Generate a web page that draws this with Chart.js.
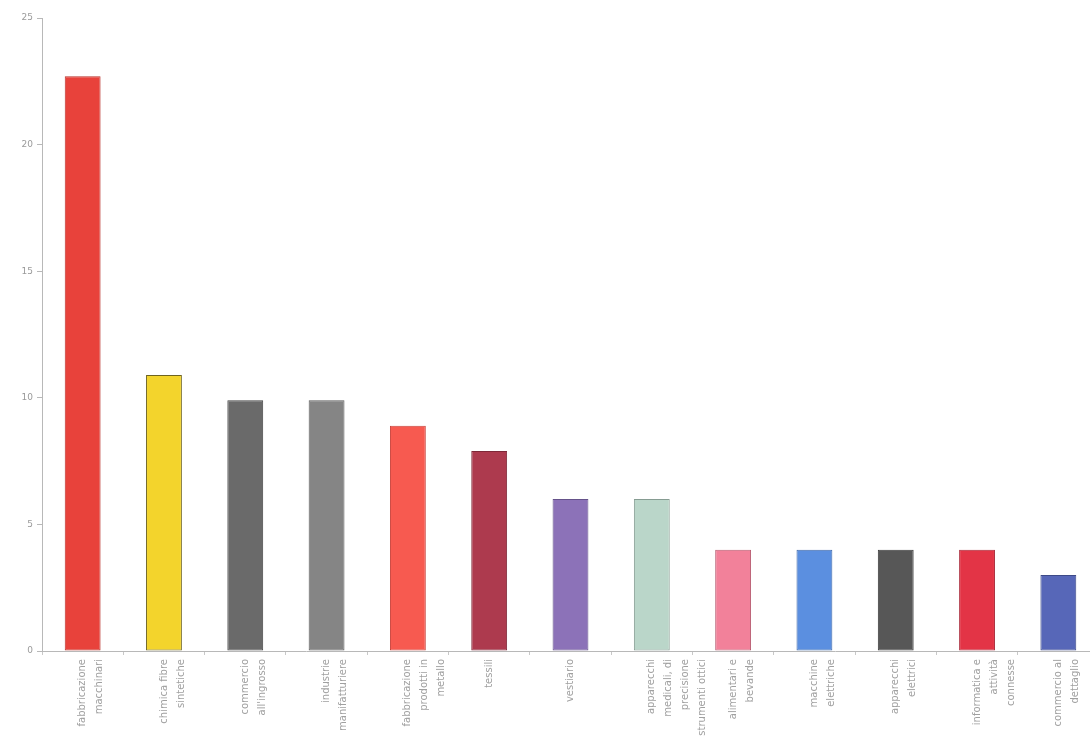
<!DOCTYPE html>
<html lang="it">
<head>
  <meta charset="UTF-8" />
  <title>Settori</title>
  <script src="https://cdn.jsdelivr.net/npm/chart.js"></script>
  <style>
    html, body { margin: 0; padding: 0; background: #fff; overflow: hidden; }
    #wrap { position: relative; width: 1100px; height: 747px; }
  </style>
</head>
<body>
  <div id="wrap"><canvas id="chart" width="1100" height="747"></canvas></div>

  <script>
    // sector labels (split into lines as in the original)
    const sectors = [
      ['fabbricazione', 'macchinari'],
      ['chimica fibre', 'sintetiche'],
      ['commercio', "all'ingrosso"],
      ['industrie', 'manifatturiere'],
      ['fabbricazione', 'prodotti in', 'metallo'],
      ['tessili'],
      ['vestiario'],
      ['apparecchi', 'medicali, di', 'precisione', 'strumenti ottici'],
      ['alimentari e', 'bevande'],
      ['macchine', 'elettriche'],
      ['apparecchi', 'elettrici'],
      ['informatica e', 'attività', 'connesse'],
      ['commercio al', 'dettaglio']
    ];
    const values = [22.7, 10.9, 9.9, 9.9, 8.9, 7.9, 6.0, 6.0, 4.0, 4.0, 4.0, 4.0, 3.0];
    const fills = ['#e8423b', '#f3d42c', '#6a6a6a', '#858585', '#f75a50', '#ad3a4e', '#8c72b8',
                   '#bad6c9', '#f2819a', '#5b8fe0', '#575757', '#e33446', '#5767b8'];
    const edges = ['#b8302a', '#6e6420', '#444444', '#5c5c5c', '#c8443c', '#7e2838', '#65528a',
                   '#869c92', '#b85e72', '#3f68a8', '#383838', '#a82434', '#3d4a88'];
    const yTicks = [0, 5, 10, 15, 20, 25];

    new Chart(document.getElementById('chart').getContext('2d'), {
      type: 'bar',
      data: {
        labels: sectors,
        datasets: [{
          data: values,
          backgroundColor: fills,
          borderColor: edges,
          borderWidth: 1,
          borderSkipped: false,
          categoryPercentage: 0.9,
          barPercentage: 0.49
        }]
      },
      options: {
        responsive: false,
        animation: false,
        layout: { padding: { top: 18, right: 1, left: 0, bottom: 0 } },
        plugins: { legend: { display: false }, tooltip: { enabled: false } },
        scales: {
          x: {
            grid: { display: true, drawOnChartArea: false, tickLength: 4, color: '#c8c8c8' },
            border: { color: '#b8b8b8' },
            ticks: {
              autoSkip: false,
              minRotation: 90,
              maxRotation: 90,
              color: '#a0a0a0',
              font: { family: 'DejaVu Sans', size: 10, lineHeight: 1.7 },
              padding: 4
            },
            afterFit: s => { s.height = 96; }
          },
          y: {
            min: 0,
            max: 25,
            afterBuildTicks: s => { s.ticks = yTicks.map(v => ({ value: v })); },
            grid: { display: true, drawOnChartArea: false, tickLength: 5, color: '#b8b8b8' },
            border: { color: '#b8b8b8' },
            ticks: { color: '#9a9a9a', font: { family: 'DejaVu Sans', size: 9 }, padding: 4 },
            afterFit: s => { s.width = 42; }
          }
        }
      }
    });
  </script>
</body>
</html>
